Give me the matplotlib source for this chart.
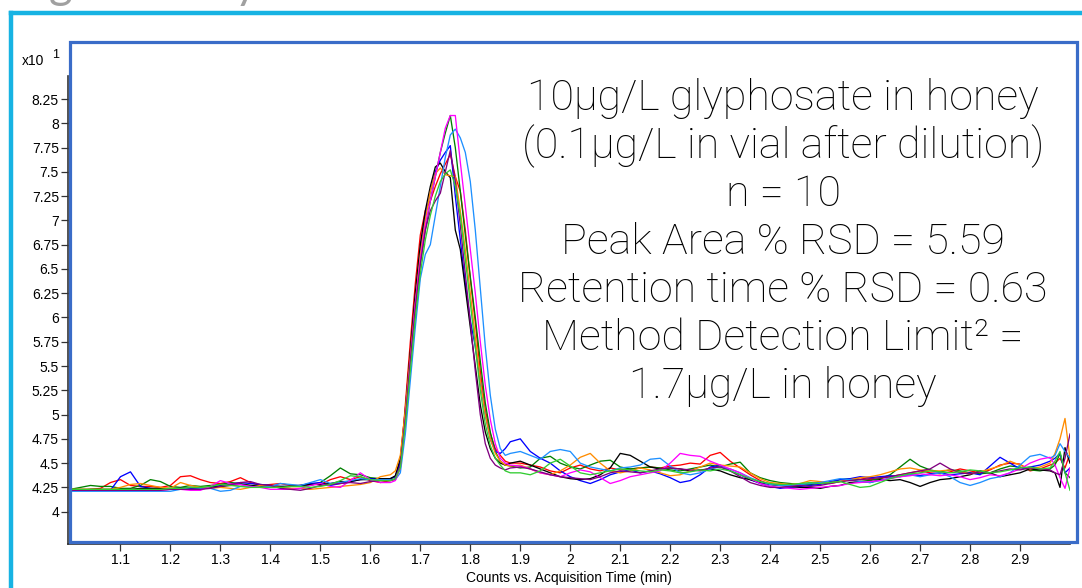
import matplotlib
matplotlib.use("Agg")
import matplotlib.pyplot as plt
from matplotlib.lines import Line2D
from matplotlib.patches import Rectangle

# ---------------- data ----------------
times = [1.00, 1.02, 1.04, 1.06, 1.08, 1.10, 1.12, 1.14, 1.16, 1.18, 1.20, 1.22, 1.24, 1.26, 1.28, 1.30,
         1.32, 1.34, 1.36, 1.38, 1.40, 1.42, 1.44, 1.46, 1.48, 1.50, 1.52, 1.54, 1.56, 1.58, 1.60, 1.62,
         1.64, 1.65, 1.66, 1.67, 1.68, 1.69, 1.70, 1.71, 1.72, 1.73, 1.74, 1.75, 1.76, 1.77, 1.78, 1.79,
         1.80, 1.81, 1.82, 1.83, 1.84, 1.85, 1.86, 1.87, 1.88,
         1.90, 1.92, 1.94, 1.96, 1.98, 2.00, 2.02, 2.04, 2.06, 2.08, 2.10, 2.12, 2.14, 2.16, 2.18, 2.20,
         2.22, 2.24, 2.26, 2.28, 2.30, 2.32, 2.34, 2.36, 2.38, 2.40, 2.42, 2.44, 2.46, 2.48, 2.50, 2.52,
         2.54, 2.56, 2.58, 2.60, 2.62, 2.64, 2.66, 2.68, 2.70, 2.72, 2.74, 2.76, 2.78, 2.80, 2.82, 2.84,
         2.86, 2.88, 2.90, 2.92, 2.94, 2.96, 2.97, 2.98, 2.99, 3.00]

inj_red = [4.23, 4.23, 4.23, 4.24, 4.30, 4.33, 4.27, 4.26, 4.26, 4.25, 4.27, 4.36, 4.37, 4.33, 4.30, 4.29,
           4.31, 4.35, 4.30, 4.27, 4.28, 4.29, 4.27, 4.27, 4.29, 4.28, 4.33, 4.36, 4.33, 4.36, 4.32, 4.30,
           4.32, 4.33, 4.45, 5.10, 5.75, 6.35, 6.85, 7.10, 7.20, 7.35, 7.48, 7.58, 7.68, 7.45, 7.30, 6.90,
           6.40, 5.95, 5.45, 5.05, 4.80, 4.65, 4.58, 4.52, 4.50,
           4.50, 4.48, 4.46, 4.42, 4.40, 4.45, 4.48, 4.44, 4.42, 4.45, 4.43, 4.44, 4.45, 4.46, 4.45, 4.47,
           4.48, 4.50, 4.49, 4.58, 4.61, 4.52, 4.45, 4.38, 4.32, 4.28, 4.27, 4.28, 4.27, 4.29, 4.30, 4.29,
           4.31, 4.33, 4.35, 4.33, 4.34, 4.36, 4.38, 4.40, 4.42, 4.40, 4.39, 4.41, 4.44, 4.42, 4.40, 4.43,
           4.48, 4.50, 4.49, 4.42, 4.44, 4.48, 4.50, 4.55, 4.45, 4.60]
inj_green = [4.23, 4.25, 4.27, 4.26, 4.26, 4.24, 4.24, 4.27, 4.33, 4.31, 4.26, 4.25, 4.27, 4.26, 4.27, 4.28,
             4.30, 4.29, 4.27, 4.26, 4.25, 4.25, 4.26, 4.26, 4.27, 4.30, 4.37, 4.45, 4.39, 4.38, 4.35, 4.34,
             4.34, 4.36, 4.50, 4.95, 5.55, 6.10, 6.55, 6.90, 7.20, 7.45, 7.70, 7.90, 8.08, 7.75, 7.30, 6.85,
             6.42, 6.00, 5.55, 5.12, 4.82, 4.62, 4.52, 4.48, 4.47,
             4.45, 4.46, 4.55, 4.57, 4.50, 4.46, 4.44, 4.48, 4.52, 4.53, 4.46, 4.44, 4.45, 4.46, 4.45, 4.43,
             4.42, 4.44, 4.46, 4.48, 4.46, 4.49, 4.51, 4.40, 4.35, 4.32, 4.30, 4.29, 4.28, 4.28, 4.29, 4.30,
             4.33, 4.34, 4.33, 4.32, 4.34, 4.38, 4.46, 4.54, 4.47, 4.43, 4.41, 4.43, 4.42, 4.40, 4.39, 4.40,
             4.44, 4.47, 4.46, 4.43, 4.42, 4.44, 4.48, 4.60, 4.40, 4.35]
inj_blue = [4.22, 4.22, 4.22, 4.22, 4.22, 4.36, 4.41, 4.26, 4.24, 4.23, 4.23, 4.24, 4.24, 4.24, 4.25, 4.27,
            4.28, 4.30, 4.29, 4.28, 4.27, 4.26, 4.26, 4.27, 4.29, 4.30, 4.27, 4.29, 4.31, 4.33, 4.34, 4.34,
            4.34, 4.36, 4.52, 5.00, 5.60, 6.20, 6.70, 7.05, 7.30, 7.50, 7.62, 7.70, 7.77, 7.25, 6.80, 6.35,
            5.97, 5.70, 5.35, 5.00, 4.75, 4.62, 4.60, 4.65, 4.72,
            4.75, 4.62, 4.55, 4.50, 4.42, 4.36, 4.32, 4.29, 4.33, 4.38, 4.41, 4.43, 4.40, 4.42, 4.39, 4.35,
            4.30, 4.32, 4.38, 4.46, 4.48, 4.42, 4.38, 4.33, 4.29, 4.26, 4.24, 4.25, 4.26, 4.27, 4.28, 4.31,
            4.33, 4.34, 4.36, 4.35, 4.36, 4.37, 4.36, 4.38, 4.37, 4.39, 4.40, 4.38, 4.39, 4.40, 4.38, 4.47,
            4.56, 4.50, 4.44, 4.46, 4.48, 4.52, 4.55, 4.60, 4.40, 4.45]
inj_black = [4.22, 4.22, 4.23, 4.23, 4.23, 4.23, 4.23, 4.24, 4.24, 4.24, 4.24, 4.24, 4.25, 4.24, 4.25, 4.26,
             4.27, 4.28, 4.27, 4.27, 4.26, 4.26, 4.26, 4.27, 4.28, 4.28, 4.29, 4.31, 4.31, 4.33, 4.33, 4.34,
             4.34, 4.37, 4.55, 5.05, 5.65, 6.25, 6.75, 7.10, 7.35, 7.55, 7.59, 7.50, 7.44, 6.90, 6.70, 6.30,
             5.90, 5.50, 5.10, 4.82, 4.65, 4.55, 4.50, 4.48, 4.50,
             4.52, 4.48, 4.44, 4.40, 4.36, 4.34, 4.33, 4.34, 4.38, 4.45, 4.60, 4.58, 4.52, 4.46, 4.44, 4.45,
             4.44, 4.42, 4.43, 4.44, 4.42, 4.38, 4.35, 4.33, 4.30, 4.28, 4.27, 4.26, 4.25, 4.25, 4.24, 4.26,
             4.27, 4.30, 4.31, 4.30, 4.33, 4.32, 4.33, 4.30, 4.26, 4.30, 4.33, 4.34, 4.36, 4.38, 4.42, 4.40,
             4.36, 4.38, 4.40, 4.44, 4.43, 4.42, 4.40, 4.25, 4.66, 4.50]
inj_orange = [4.23, 4.23, 4.23, 4.23, 4.23, 4.25, 4.28, 4.29, 4.27, 4.25, 4.24, 4.30, 4.27, 4.25, 4.24, 4.25,
              4.24, 4.23, 4.25, 4.27, 4.26, 4.25, 4.24, 4.24, 4.23, 4.24, 4.25, 4.26, 4.27, 4.28, 4.30, 4.36,
              4.38, 4.42, 4.58, 5.05, 5.60, 6.15, 6.65, 7.00, 7.30, 7.48, 7.54, 7.47, 7.46, 7.45, 7.10, 6.70,
              6.25, 5.80, 5.35, 5.00, 4.75, 4.60, 4.52, 4.48, 4.47,
              4.48, 4.44, 4.40, 4.38, 4.42, 4.48, 4.56, 4.60, 4.50, 4.42, 4.40, 4.42, 4.45, 4.43, 4.40, 4.37,
              4.38, 4.42, 4.46, 4.50, 4.48, 4.47, 4.46, 4.40, 4.34, 4.30, 4.29, 4.28, 4.29, 4.32, 4.31, 4.30,
              4.31, 4.33, 4.35, 4.36, 4.38, 4.41, 4.44, 4.45, 4.43, 4.42, 4.42, 4.43, 4.41, 4.39, 4.41, 4.44,
              4.47, 4.52, 4.48, 4.44, 4.46, 4.50, 4.60, 4.75, 4.96, 4.55]
inj_skyblue = [4.21, 4.21, 4.21, 4.21, 4.21, 4.21, 4.21, 4.21, 4.21, 4.21, 4.21, 4.23, 4.25, 4.24, 4.24, 4.21,
               4.22, 4.26, 4.26, 4.25, 4.26, 4.29, 4.28, 4.27, 4.30, 4.33, 4.29, 4.30, 4.32, 4.34, 4.33, 4.33,
               4.33, 4.33, 4.40, 4.80, 5.35, 5.90, 6.40, 6.65, 6.75, 7.05, 7.35, 7.65, 7.88, 7.94, 7.85, 7.70,
               7.40, 6.90, 6.30, 5.70, 5.20, 4.85, 4.65, 4.58, 4.60,
               4.62, 4.58, 4.54, 4.62, 4.64, 4.62, 4.50, 4.46, 4.44, 4.42, 4.45, 4.46, 4.48, 4.54, 4.55, 4.47,
               4.40, 4.38, 4.40, 4.44, 4.46, 4.44, 4.40, 4.35, 4.31, 4.28, 4.27, 4.27, 4.28, 4.29, 4.30, 4.32,
               4.34, 4.33, 4.31, 4.30, 4.32, 4.35, 4.37, 4.38, 4.36, 4.38, 4.40, 4.36, 4.30, 4.27, 4.30, 4.34,
               4.36, 4.40, 4.48, 4.57, 4.59, 4.55, 4.58, 4.70, 4.62, 4.55]
inj_magenta = [4.22, 4.22, 4.22, 4.22, 4.22, 4.22, 4.22, 4.22, 4.22, 4.22, 4.23, 4.23, 4.22, 4.22, 4.26, 4.32,
               4.29, 4.28, 4.26, 4.25, 4.23, 4.23, 4.23, 4.24, 4.27, 4.29, 4.26, 4.25, 4.32, 4.40, 4.33, 4.30,
               4.30, 4.32, 4.45, 4.95, 5.55, 6.15, 6.60, 6.95, 7.20, 7.45, 7.70, 7.95, 8.08, 8.08, 7.60, 7.15,
               6.70, 6.25, 5.75, 5.30, 4.95, 4.70, 4.55, 4.50, 4.48,
               4.47, 4.44, 4.40, 4.38, 4.36, 4.40, 4.43, 4.41, 4.35, 4.29, 4.32, 4.36, 4.38, 4.40, 4.42, 4.50,
               4.60, 4.58, 4.57, 4.52, 4.48, 4.44, 4.40, 4.34, 4.29, 4.26, 4.25, 4.24, 4.23, 4.24, 4.25, 4.26,
               4.27, 4.29, 4.30, 4.31, 4.32, 4.34, 4.36, 4.37, 4.39, 4.38, 4.37, 4.38, 4.36, 4.33, 4.35, 4.38,
               4.37, 4.40, 4.44, 4.50, 4.54, 4.56, 4.48, 4.35, 4.24, 4.45]
inj_purple = [4.22, 4.22, 4.22, 4.22, 4.22, 4.22, 4.22, 4.22, 4.22, 4.22, 4.23, 4.23, 4.23, 4.23, 4.24, 4.26,
              4.28, 4.30, 4.31, 4.28, 4.27, 4.24, 4.23, 4.22, 4.24, 4.27, 4.28, 4.29, 4.30, 4.29, 4.31, 4.32,
              4.32, 4.34, 4.48, 4.95, 5.55, 6.10, 6.55, 6.90, 7.10, 7.20, 7.28, 7.50, 7.72, 7.40, 6.95, 6.45,
              5.95, 5.45, 5.00, 4.70, 4.55, 4.48, 4.45, 4.43, 4.45,
              4.46, 4.44, 4.41, 4.38, 4.36, 4.35, 4.34, 4.33, 4.36, 4.40, 4.42, 4.41, 4.40, 4.42, 4.44, 4.45,
              4.44, 4.43, 4.42, 4.45, 4.46, 4.42, 4.36, 4.30, 4.27, 4.25, 4.25, 4.26, 4.27, 4.26, 4.27, 4.29,
              4.31, 4.32, 4.33, 4.34, 4.35, 4.36, 4.38, 4.40, 4.42, 4.44, 4.50, 4.44, 4.40, 4.39, 4.41, 4.40,
              4.42, 4.44, 4.43, 4.45, 4.44, 4.43, 4.40, 4.38, 4.55, 4.80]
inj_lime = [4.23, 4.23, 4.23, 4.23, 4.23, 4.23, 4.23, 4.23, 4.23, 4.23, 4.24, 4.24, 4.25, 4.25, 4.26, 4.28,
            4.27, 4.26, 4.25, 4.25, 4.25, 4.25, 4.26, 4.26, 4.25, 4.26, 4.28, 4.32, 4.37, 4.36, 4.33, 4.32,
            4.32, 4.34, 4.45, 4.90, 5.45, 6.00, 6.45, 6.80, 7.05, 7.25, 7.40, 7.48, 7.52, 7.35, 7.05, 6.60,
            6.15, 5.70, 5.25, 4.90, 4.68, 4.55, 4.48, 4.42, 4.40,
            4.40, 4.38, 4.42, 4.50, 4.54, 4.47, 4.40, 4.38, 4.40, 4.42, 4.44, 4.43, 4.42, 4.41, 4.43, 4.42,
            4.40, 4.41, 4.43, 4.42, 4.44, 4.42, 4.38, 4.34, 4.31, 4.29, 4.28, 4.28, 4.29, 4.30, 4.29, 4.30,
            4.31, 4.28, 4.25, 4.26, 4.30, 4.34, 4.37, 4.39, 4.40, 4.42, 4.41, 4.40, 4.41, 4.43, 4.42, 4.40,
            4.41, 4.43, 4.45, 4.46, 4.44, 4.45, 4.52, 4.62, 4.40, 4.22]

series = [inj_red, inj_green, inj_blue, inj_black, inj_orange, inj_skyblue, inj_magenta, inj_purple, inj_lime]
series_colors = ["#ff0000", "#008000", "#0000ff", "#000000", "#ff8c00", "#1e90ff", "#ff00ff", "#800080", "#32cd32"]

y_ticks = [4, 4.25, 4.5, 4.75, 5, 5.25, 5.5, 5.75, 6, 6.25, 6.5, 6.75, 7, 7.25, 7.5, 7.75, 8, 8.25]
x_ticks = [1.1, 1.2, 1.3, 1.4, 1.5, 1.6, 1.7, 1.8, 1.9, 2.0, 2.1, 2.2, 2.3, 2.4, 2.5, 2.6, 2.7, 2.8, 2.9]

annotation_lines = ["10µg/L glyphosate in honey",
                    "(0.1µg/L in vial after dilution)",
                    "n = 10",
                    "Peak Area % RSD = 5.59",
                    "Retention time % RSD = 0.63",
                    "Method Detection Limit² =",
                    "1.7µg/L in honey"]
x_label = "Counts vs. Acquisition Time (min)"
slide_title = "Significantly"

# ---------------- figure ----------------
W, H = 1082, 588
fig = plt.figure(figsize=(W / 100, H / 100), dpi=100)
fig.patch.set_facecolor("white")

def fx(px):
    return px / W

def fy(py):
    return 1 - py / H

# slide title (only its descenders show at the top edge, as in the slide)
fig.text(fx(14), fy(-2), slide_title, fontsize=33, color="#a0a0a0", family="Lato",
         ha="left", va="baseline")

# cyan slide border
fig.add_artist(Line2D([fx(11), fx(W + 5)], [fy(13), fy(13)], color="#17b3e3", lw=3.2,
                      transform=fig.transFigure))
fig.add_artist(Line2D([fx(11), fx(11)], [fy(13), fy(H + 5)], color="#17b3e3", lw=3.2,
                      transform=fig.transFigure))

# blue chart frame
fig.add_artist(Rectangle((fx(70), fy(542)), fx(1077) - fx(70), fy(42) - fy(542),
                         fill=False, edgecolor="#3a6cc8", lw=2.3, transform=fig.transFigure, zorder=5))

ax = fig.add_axes([fx(68), fy(544), fx(1070) - fx(68), fy(76) - fy(544)])
ax.patch.set_alpha(0)
for y, c in zip(series, series_colors):
    ax.plot(times, y, color=c, lw=0.95)

ax.set_xlim(0.995, 3.0)
ax.set_ylim(3.667, 8.487)
ax.set_yticks(y_ticks)
ax.set_yticklabels([f"{v:g}" for v in y_ticks])
ax.set_xticks(x_ticks)
ax.set_xticklabels([f"{v:g}" for v in x_ticks])
for s in ["top", "right"]:
    ax.spines[s].set_visible(False)
for s in ["left", "bottom"]:
    ax.spines[s].set_color("#333333")
    ax.spines[s].set_linewidth(1.2)
ax.tick_params(axis="both", direction="out", length=5, width=0.9, color="#333333",
               labelsize=10, pad=1.5)
for lab in ax.get_xticklabels() + ax.get_yticklabels():
    lab.set_family("Liberation Sans")
ax.set_xlabel(x_label, fontsize=10, family="Liberation Sans", labelpad=3)

fig.text(fx(22), fy(61), "x10", fontsize=10, family="Liberation Sans", ha="left", va="center")
fig.text(fx(52), fy(55), "1", fontsize=9, family="Liberation Sans", ha="left", va="center")

baselines = [110, 158, 206, 254, 302, 350, 398]
for txt, b in zip(annotation_lines, baselines):
    fig.text(fx(783), fy(b), txt, fontsize=31, family="Roboto", fontweight="light",
             color="#000000", ha="center", va="baseline")

fig.savefig("out.png", dpi=100)
